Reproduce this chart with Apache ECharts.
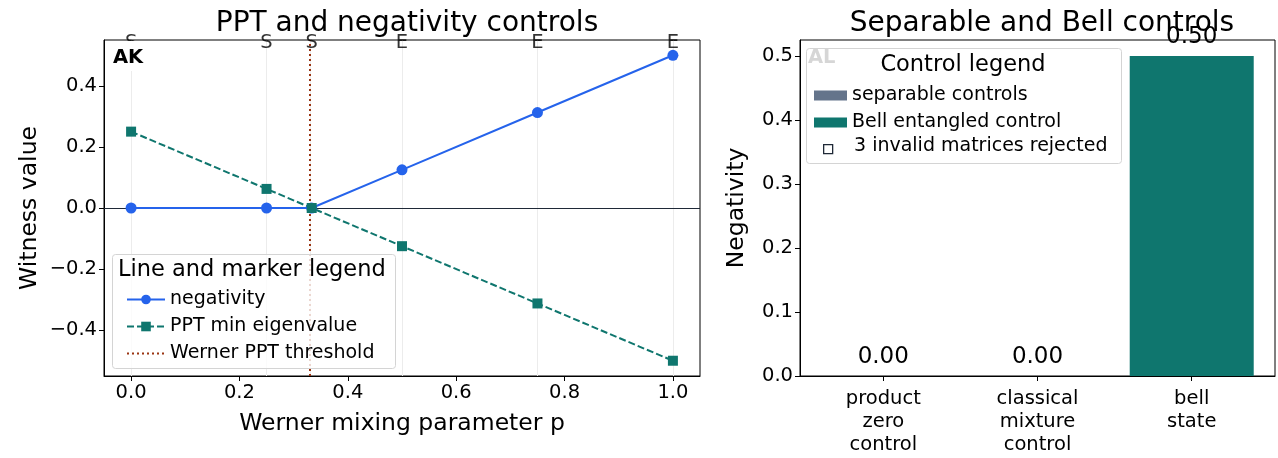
<!DOCTYPE html>
<html>
<head>
<meta charset="utf-8">
<script src="https://cdn.jsdelivr.net/npm/echarts@6/dist/echarts.min.js"></script>
<style>
html, body { margin: 0; padding: 0; background: #fff; }
#main { width: 1278px; height: 458px; }
</style>
</head>
<body>
<div id="main"></div>
<script>
// werner scan
var pValues = [0, 0.25, 1 / 3, 0.5, 0.75, 1.0];
var negativity = [0, 0, 0, 0.125, 0.3125, 0.5];
var ppt_min_eig = [0.25, 0.0625, 0, -0.125, -0.3125, -0.5];
var regimes = ['S', 'S', 'S', 'E', 'E', 'E'];
var wernerThreshold = 1 / 3;
var leftYTicks = [-0.4, -0.2, 0, 0.2, 0.4];
var leftXTicks = [0, 0.2, 0.4, 0.6, 0.8, 1.0];

// controls
var controlNames = ['product\nzero\ncontrol', 'classical\nmixture\ncontrol', 'bell\nstate'];
var separableValues = [0, 0];
var bellValues = [0.5];
var invalidCount = 3;

var FONT = 'DejaVu Sans';
var TICK = 19.5;

function minusFmt(v, d) {
	return (v < -1e-9 ? '\u2212' : '') + Math.abs(v).toFixed(d);
}

var myChart = echarts.init(document.getElementById('main'));

var negData = [], pptData = [], regimeData = [];
for (var i = 0; i < pValues.length; i++) {
	negData.push([pValues[i], negativity[i]]);
	pptData.push([pValues[i], ppt_min_eig[i]]);
	regimeData.push({ value: [pValues[i], 0.55], label: { formatter: regimes[i] } });
}
var gridLines = [];
for (var i = 0; i < pValues.length; i++) {
	gridLines.push({ xAxis: pValues[i] });
}

var sepData = [], bellData = [];
for (var i = 0; i < separableValues.length; i++) sepData.push([i, separableValues[i]]);
for (var i = 0; i < bellValues.length; i++) bellData.push([separableValues.length + i, bellValues[i]]);

function tickStyle(vals) {
	var t = { show: true, inside: false, length: 5, lineStyle: { color: '#000', width: 1 } };
	if (vals) t.customValues = vals;
	return t;
}
var axisLineStyle = { show: true, onZero: false, lineStyle: { color: '#000' } };

var option = {
	animation: false,
	textStyle: { fontFamily: FONT },
	title: [
		{ text: 'PPT and negativity controls', left: 402, top: 5, textAlign: 'center',
		  textStyle: { fontFamily: FONT, fontSize: 28, fontWeight: 'normal', color: '#000' } },
		{ text: 'Separable and Bell controls', left: 1037, top: 5, textAlign: 'center',
		  textStyle: { fontFamily: FONT, fontSize: 28, fontWeight: 'normal', color: '#000' } }
	],
	grid: [
		{ left: 104, top: 40, width: 596, height: 336, show: true, borderColor: '#000', borderWidth: 1 },
		{ left: 800, top: 40, width: 475, height: 336, show: true, borderColor: '#000', borderWidth: 1 }
	],
	xAxis: [
		{
			gridIndex: 0, type: 'value', min: -0.05, max: 1.05,
			name: 'Werner mixing parameter p', nameLocation: 'middle', nameGap: 36,
			nameTextStyle: { fontFamily: FONT, fontSize: 23.5, color: '#000' },
			axisLine: axisLineStyle,
			axisTick: tickStyle(leftXTicks),
			axisLabel: { customValues: leftXTicks, fontSize: TICK, color: '#000', margin: 7,
				formatter: function (v) { return minusFmt(v, 1); } },
			splitLine: { show: false }
		},
		{
			gridIndex: 1, type: 'value', min: -0.54, max: 2.54,
			axisLine: axisLineStyle,
			axisTick: tickStyle([0, 1, 2]),
			axisLabel: { customValues: [0, 1, 2], fontSize: TICK, color: '#000', margin: 11, lineHeight: 23,
				formatter: function (v) { return controlNames[Math.round(v)]; } },
			splitLine: { show: false }
		}
	],
	yAxis: [
		{
			gridIndex: 0, type: 'value', min: -0.55, max: 0.55,
			name: 'Witness value', nameLocation: 'middle', nameGap: 62,
			nameTextStyle: { fontFamily: FONT, fontSize: 23.5, color: '#000' },
			axisLine: axisLineStyle,
			axisTick: tickStyle(leftYTicks),
			axisLabel: { customValues: leftYTicks, fontSize: TICK, color: '#000', margin: 7,
				formatter: function (v) { return minusFmt(v, 1); } },
			splitLine: { show: false }
		},
		{
			gridIndex: 1, type: 'value', min: 0, max: 0.525, interval: 0.1,
			name: 'Negativity', nameLocation: 'middle', nameGap: 51,
			nameTextStyle: { fontFamily: FONT, fontSize: 23.5, color: '#000' },
			axisLine: axisLineStyle,
			axisTick: tickStyle(),
			axisLabel: { fontSize: TICK, color: '#000', margin: 7, showMaxLabel: false,
				formatter: function (v) { return v.toFixed(1); } },
			splitLine: { show: false }
		}
	],
	legend: [
		{
			orient: 'vertical', left: 121, top: 285, itemGap: 8, itemWidth: 38, itemHeight: 12, z: 12,
			textStyle: { fontFamily: FONT, fontSize: 19, color: '#000' },
			data: ['negativity', 'PPT min eigenvalue',
				{ name: 'Werner PPT threshold', itemStyle: { color: 'rgba(0,0,0,0)', borderWidth: 0 } }]
		},
		{
			orient: 'vertical', left: 809, top: 81, itemGap: 8, itemWidth: 33, itemHeight: 10, z: 12,
			textStyle: { fontFamily: FONT, fontSize: 19, color: '#000' },
			data: [{ name: 'separable controls', icon: 'rect' }, { name: 'Bell entangled control', icon: 'rect' }]
		}
	],
	graphic: [
		// panel tags, white box behind them like the original (AL sits under the legend box)
		{ type: 'text', left: 109, top: 41, z: 20,
		  style: { text: 'AK', fontFamily: FONT, fontSize: 19.5, fontWeight: 'bold', fill: '#000', backgroundColor: '#fff', padding: [7, 4, 3, 4] } },
		{ type: 'text', left: 808, top: 48, style: { text: 'AL', fontFamily: FONT, fontSize: 19.5, fontWeight: 'bold', fill: '#333' }, z: 5 },
		// left legend box
		{ type: 'rect', left: 112, top: 254, shape: { width: 283, height: 114, r: 3 },
		  style: { fill: 'rgba(255,255,255,0.8)', stroke: '#d4d4d4', lineWidth: 1 }, z: 10 },
		{ type: 'text', left: 118, top: 259, style: { text: 'Line and marker legend', fontFamily: FONT, fontSize: 22.5, fill: '#000' }, z: 12 },
		// right legend box
		{ type: 'rect', left: 806, top: 48, shape: { width: 315, height: 115, r: 3 },
		  style: { fill: 'rgba(255,255,255,0.8)', stroke: '#d4d4d4', lineWidth: 1 }, z: 10 },
		{ type: 'text', x: 963, y: 54, style: { text: 'Control legend', fontFamily: FONT, fontSize: 22.5, fill: '#000', align: 'center' }, z: 12 },
		{ type: 'rect', left: 823, top: 144, shape: { width: 9, height: 9 },
		  style: { fill: '#fff', stroke: '#1f2937', lineWidth: 1.3 }, z: 12 },
		{ type: 'text', left: 854, top: 137, style: { text: invalidCount + ' invalid matrices rejected', fontFamily: FONT, fontSize: 19, fill: '#000' }, z: 12 }
	],
	series: [
		{
			name: 'gridlines', type: 'line', xAxisIndex: 0, yAxisIndex: 0, data: [], silent: true, z: 1,
			markLine: { silent: true, symbol: 'none', z: 1, label: { show: false },
				lineStyle: { color: '#ececec', width: 1, type: 'solid' }, data: gridLines }
		},
		{
			name: 'zero', type: 'line', xAxisIndex: 0, yAxisIndex: 0, data: [], silent: true, z: 2,
			markLine: { silent: true, symbol: 'none', z: 2, label: { show: false },
				lineStyle: { color: '#1f2937', width: 1, type: 'solid' }, data: [{ yAxis: 0 }] }
		},
		{
			name: 'Werner PPT threshold', type: 'line', xAxisIndex: 0, yAxisIndex: 0, data: [], z: 3,
			symbol: 'none', itemStyle: { color: '#9a3412' }, lineStyle: { color: '#9a3412', width: 2, type: [2, 3] },
			markLine: { silent: true, symbol: 'none', z: 3, label: { show: false },
				lineStyle: { color: '#9a3412', width: 2, type: [2, 3] }, data: [{ xAxis: wernerThreshold }] }
		},
		{
			name: 'negativity', type: 'line', xAxisIndex: 0, yAxisIndex: 0, data: negData,
			symbol: 'circle', symbolSize: 11, z: 4,
			itemStyle: { color: '#2563eb' }, lineStyle: { color: '#2563eb', width: 2 }
		},
		{
			name: 'PPT min eigenvalue', type: 'line', xAxisIndex: 0, yAxisIndex: 0, data: pptData,
			symbol: 'rect', symbolSize: 10, z: 4,
			itemStyle: { color: '#0f766e' }, lineStyle: { color: '#0f766e', width: 2, type: [7, 3] }
		},
		{
			name: 'regimes', type: 'scatter', xAxisIndex: 0, yAxisIndex: 0, data: regimeData,
			symbolSize: 0, clip: false, silent: true, z: 6,
			label: { show: true, position: 'inside', offset: [0, 3], fontFamily: FONT, fontSize: TICK,
				color: '#000', textBorderWidth: 0 }
		},
		{
			name: 'separable controls', type: 'bar', xAxisIndex: 1, yAxisIndex: 1, data: sepData,
			barWidth: 124, barGap: '-100%', itemStyle: { color: '#64748b' },
			label: { show: true, position: 'top', distance: 7, fontFamily: FONT, fontSize: 23, color: '#000',
				formatter: function (p) { return p.value[1].toFixed(2); } }
		},
		{
			name: 'Bell entangled control', type: 'bar', xAxisIndex: 1, yAxisIndex: 1, data: bellData,
			barWidth: 124, barGap: '-100%', itemStyle: { color: '#0f766e' },
			label: { show: true, position: 'top', distance: 7, fontFamily: FONT, fontSize: 23, color: '#000',
				formatter: function (p) { return p.value[1].toFixed(2); } }
		}
	]
};

myChart.setOption(option);
</script>
</body>
</html>
